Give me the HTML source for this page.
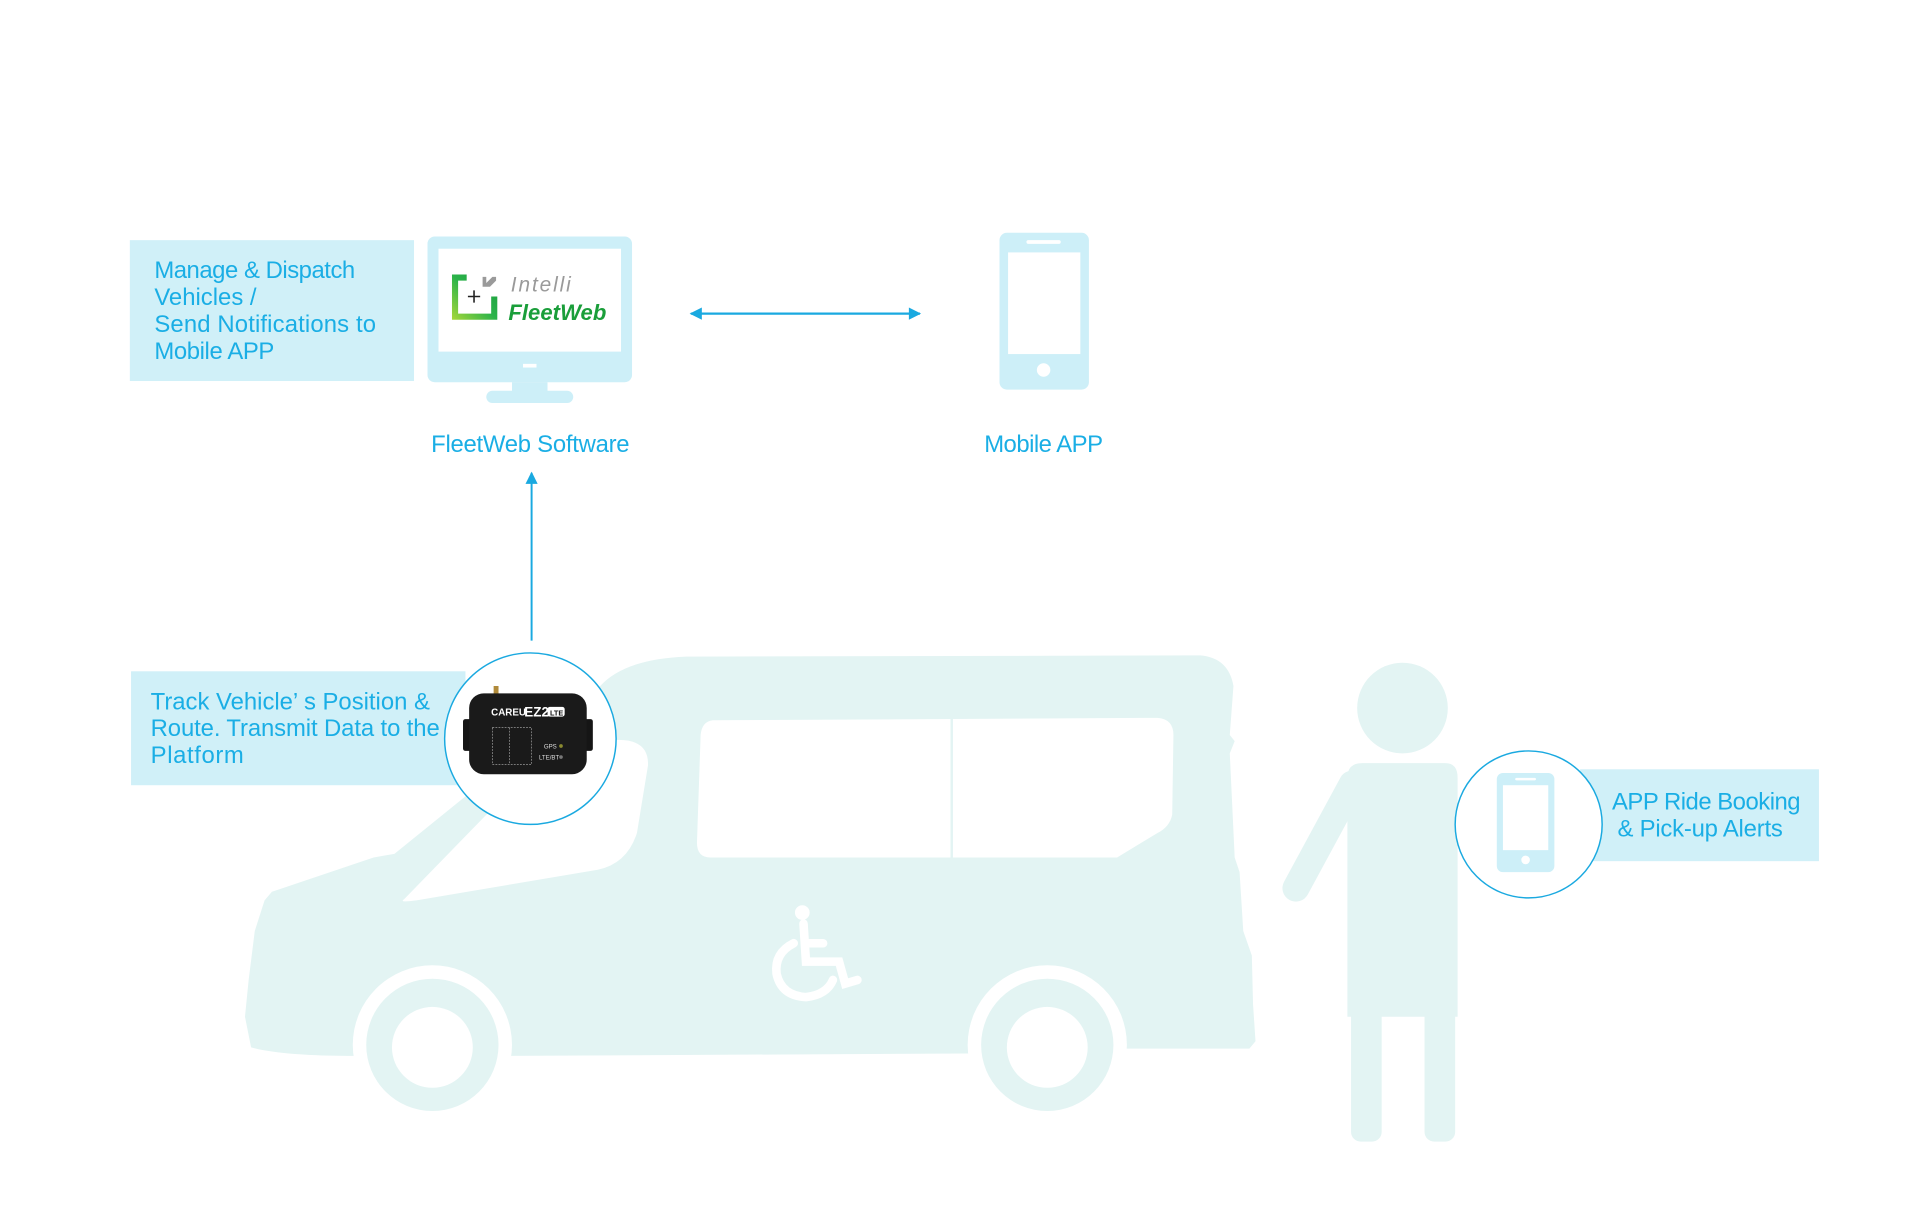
<!DOCTYPE html>
<html><head><meta charset="utf-8"><style>
html,body{margin:0;padding:0;background:#fff;}
svg{display:block;}
text{font-family:"Liberation Sans",sans-serif;}
</style></head><body>
<svg width="1920" height="1214" viewBox="0 0 1567.5 991" xmlns="http://www.w3.org/2000/svg">
<defs>
<marker id="ah" viewBox="0 0 10 10" refX="9" refY="5" markerWidth="16" markerHeight="10" orient="auto-start-reverse" markerUnits="userSpaceOnUse"><path d="M0,0 L10,5 L0,10 Z" fill="#1aa9e0"/></marker>
<linearGradient id="lg" x1="0" y1="1" x2="1" y2="0"><stop offset="0" stop-color="#a8d83a"/><stop offset="0.5" stop-color="#2bb34a"/><stop offset="1" stop-color="#1a9a3c"/></linearGradient>
</defs>

<!-- Van -->
<path fill="#e3f4f3" d="M490,560 Q510,538 560,536 L980,535 Q1003,537 1007,560 L1004,600 L1008,605 L1004,615 L1008,700 L1012,712 L1015,760 L1022,780 L1023,820 L1025,850 L1020,856 L920,856 L790,860 L415,862 L290,862 Q230,862 205,855 L200,830 L203,800 L208,760 L216,735 L222,728 L305,700 L322,697 L395,638 L430,600 Z"/>
<path fill="#fff" d="M330,734 L400,662 L445,618 Q470,605 505,604 Q530,604 529,625 L520,680 Q512,705 488,710 L340,735 Q325,737 330,734 Z"/>
<path fill="#fff" d="M582,588 L945,586 Q958,587 958,600 L957,665 Q955,675 945,680 L912,700 L580,700 Q569,700 569,688 L572,600 Q573,589 582,588 Z"/>
<rect x="776" y="586" width="2" height="116" fill="#e3f4f3"/>
<circle cx="353" cy="853" r="65" fill="#fff"/>
<circle cx="353" cy="853" r="54" fill="#e3f4f3"/>
<circle cx="353" cy="855" r="33" fill="#fff"/>
<circle cx="855" cy="853" r="65" fill="#fff"/>
<circle cx="855" cy="853" r="54" fill="#e3f4f3"/>
<circle cx="855" cy="855" r="33" fill="#fff"/>
<g fill="none" stroke="#fff" stroke-width="7" stroke-linecap="round">
<circle cx="655" cy="745" r="6" fill="#fff" stroke="none"/>
<path d="M656,754 L658,785 L685,785 L690,803 L700,800"/>
<path d="M658,770 L672,770"/>
<path d="M648,770 Q632,778 634,795 Q638,813 658,814 Q675,812 680,800"/>
</g>

<!-- Person -->
<g fill="#e3f4f3">
<circle cx="1145" cy="578" r="37"/>
<path d="M1112,623 L1180,623 Q1190,623 1190,635 L1190,830 L1100,830 L1100,635 Q1100,623 1112,623 Z"/>
<rect x="1103" y="820" width="25" height="112" rx="8"/>
<rect x="1163" y="820" width="25" height="112" rx="8"/>
</g>
<path d="M1104,640 L1058,725" stroke="#e3f4f3" stroke-width="22" stroke-linecap="round"/>

<!-- Box 1 -->
<rect x="106" y="196" width="232" height="115" fill="#d0f0f8"/>
<g fill="#1aaee5" font-size="19.5">
<text x="126" y="227" textLength="164">Manage &amp; Dispatch</text>
<text x="126" y="249">Vehicles /</text>
<text x="126" y="271" textLength="181">Send Notifications to</text>
<text x="126" y="293" textLength="98">Mobile APP</text>
</g>

<!-- Monitor -->
<rect x="349" y="193" width="167" height="119" rx="6" fill="#cdeff8"/>
<rect x="358" y="203" width="149" height="84" fill="#fff"/>
<rect x="427" y="297" width="11" height="3" fill="#fff"/>
<rect x="418" y="312" width="29" height="10" fill="#cdeff8"/>
<rect x="397" y="319" width="71" height="10" rx="5" fill="#cdeff8"/>
<path d="M369,224 L381,224 L381,229 L374,229 L374,256 L401,256 L401,242 L406,242 L406,261 L369,261 Z" fill="url(#lg)"/>
<path d="M394,226 L394,234 L400,234 L405,229 L405,226 L402,226 L397,231 L397,226 Z" fill="#9a9a9a"/>
<path d="M387,237 L387,247 M382,242 L392,242" stroke="#222" stroke-width="1.3"/>
<text x="417" y="238" font-size="17" font-style="italic" fill="#9a9a9a" textLength="49">Intelli</text>
<text x="415" y="261" font-size="18" font-style="italic" font-weight="bold" fill="#1a9e3a" textLength="80">FleetWeb</text>

<text x="433" y="369" font-size="19.5" fill="#1aaee5" text-anchor="middle" textLength="162">FleetWeb Software</text>

<line x1="564" y1="256" x2="751" y2="256" stroke="#1aa9e0" stroke-width="1.8" marker-start="url(#ah)" marker-end="url(#ah)"/>

<!-- Phone -->
<rect x="816" y="190" width="73" height="128" rx="6" fill="#cdeff8"/>
<rect x="823" y="206" width="59" height="83" fill="#fff"/>
<rect x="838" y="196" width="28" height="3" rx="1.5" fill="#fff"/>
<circle cx="852" cy="302" r="5.5" fill="#fff"/>
<text x="852" y="369" font-size="19.5" fill="#1aaee5" text-anchor="middle" textLength="97">Mobile APP</text>

<line x1="434" y1="523" x2="434" y2="386" stroke="#1aa9e0" stroke-width="1.6" marker-end="url(#ah)"/>

<!-- Box 2 -->
<rect x="107" y="548" width="273" height="93" fill="#d0f0f8"/>
<g fill="#1aaee5" font-size="19.5">
<text x="123" y="579" textLength="228">Track Vehicle’ s  Position &amp;</text>
<text x="123" y="601" textLength="236">Route. Transmit Data to the</text>
<text x="123" y="623" textLength="76">Platform</text>
</g>
<circle cx="433" cy="603" r="70" fill="#fff" stroke="#1aa9e0" stroke-width="1.2"/>
<rect x="403" y="560" width="4" height="10" fill="#b08a3a"/>
<rect x="378" y="587" width="10" height="26" rx="2" fill="#151515"/>
<rect x="474" y="587" width="10" height="26" rx="2" fill="#151515"/>
<rect x="383" y="566" width="96" height="66" rx="12" fill="#1a1a1a"/>
<text x="401" y="584" font-size="8" font-weight="bold" fill="#fff">CAREU</text>
<text x="428" y="585" font-size="11" font-weight="bold" fill="#fff">EZ2</text>
<rect x="447" y="577" width="14" height="8" rx="2" fill="#fff"/>
<text x="449" y="584" font-size="6" font-weight="bold" fill="#111">LTE</text>
<rect x="402" y="594" width="32" height="30" fill="none" stroke="#999" stroke-width="0.6" stroke-dasharray="1.5,1"/>
<line x1="416" y1="594" x2="416" y2="624" stroke="#999" stroke-width="0.6" stroke-dasharray="1.5,1"/>
<text x="444" y="611" font-size="5" fill="#ddd">GPS</text>
<text x="440" y="620" font-size="5" fill="#ddd">LTE/BT</text>
<circle cx="458" cy="609" r="1.5" fill="#8a8a30"/>
<circle cx="458" cy="618" r="1.5" fill="#777"/>

<!-- Box 3 and circle 2 -->
<rect x="1290" y="628" width="195" height="75" fill="#d0f0f8"/>
<circle cx="1248" cy="673" r="60" fill="#fff" stroke="#1aa9e0" stroke-width="1.2"/>
<rect x="1222" y="631" width="47" height="81" rx="5" fill="#cdeff8"/>
<rect x="1227" y="641" width="37" height="53" fill="#fff"/>
<rect x="1237" y="635" width="17" height="2" rx="1" fill="#fff"/>
<circle cx="1245.5" cy="702" r="3.5" fill="#fff"/>
<g fill="#1aaee5" font-size="19.5">
<text x="1393" y="661" text-anchor="middle" textLength="154">APP Ride Booking</text>
<text x="1388" y="683" text-anchor="middle" textLength="135">&amp; Pick-up Alerts</text>
</g>
</svg>
</body></html>
